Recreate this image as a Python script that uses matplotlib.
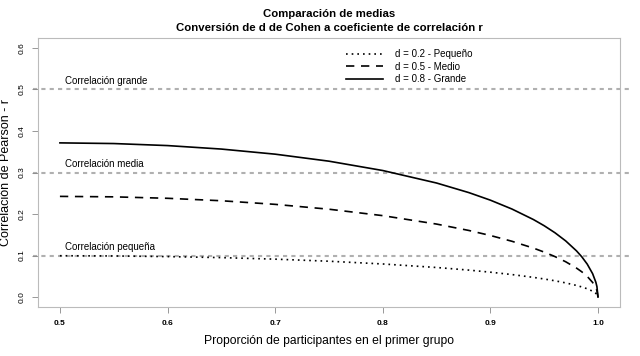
import numpy as np
import matplotlib
matplotlib.use("Agg")
import matplotlib.pyplot as plt

plt.rcParams['font.family'] = ['Liberation Sans', 'DejaVu Sans']

# proporcion en el primer grupo
p = [0.5, 0.55, 0.6, 0.65, 0.7, 0.75, 0.8, 0.85, 0.88, 0.9, 0.92, 0.94,
     0.95, 0.96, 0.97, 0.98, 0.985, 0.99, 0.995, 0.998, 0.999, 1.0]
r_peq = [0.0995, 0.0990, 0.0975, 0.0950, 0.0913, 0.0863, 0.0797, 0.0712, 0.0649,
         0.0599, 0.0542, 0.0474, 0.0435, 0.0392, 0.0341, 0.0280, 0.0243, 0.0199,
         0.0141, 0.0089, 0.0063, 0.0]
r_med = [0.2425, 0.2414, 0.2379, 0.2320, 0.2233, 0.2116, 0.1961, 0.1758, 0.1604,
         0.1483, 0.1344, 0.1179, 0.1083, 0.0975, 0.0850, 0.0698, 0.0607, 0.0497,
         0.0352, 0.0223, 0.0158, 0.0]
r_gra = [0.3714, 0.3698, 0.3649, 0.3565, 0.3442, 0.3273, 0.3048, 0.2747, 0.2516,
         0.2334, 0.2121, 0.1867, 0.1718, 0.1549, 0.1352, 0.1113, 0.0968, 0.0793,
         0.0563, 0.0357, 0.0253, 0.0]

ref_vals = [0.1, 0.3, 0.5]
ref_txt = ['Correlación pequeña', 'Correlación media', 'Correlación grande']
leg_txt = ['d = 0.2 - Pequeño', 'd = 0.5 - Medio', 'd = 0.8 - Grande']
xticks = [0.5, 0.6, 0.7, 0.8, 0.9, 1.0]
yticks = [0.0, 0.1, 0.2, 0.3, 0.4, 0.5, 0.6]

fig = plt.figure(figsize=(6.4, 3.56), dpi=100)
ax = fig.add_axes([0.0600, 0.1376, 0.9080, 0.7556])

# lineas de referencia
for v, t in zip(ref_vals, ref_txt):
    ax.axhline(v, xmin=-0.01, xmax=1.02, color='#b0b0b0', lw=1.5,
               ls=(0, (2, 2)), clip_on=False, zorder=1)
    ax.text(0.505, v + 0.008, t, fontsize=7, va='bottom', ha='left')

l1, = ax.plot(p, r_peq, color='black', lw=1.2, ls=(0, (1, 2.4)))
l2, = ax.plot(p, r_med, color='black', lw=1.2, ls=(0, (5, 4)))
l3, = ax.plot(p, r_gra, color='black', lw=1.2, ls='-')

ax.legend([l1, l2, l3], leg_txt, loc='upper left', bbox_to_anchor=(0.515, 0.99),
          frameon=False, fontsize=7, handlelength=3.8, labelspacing=0.25,
          handletextpad=1.2)

ax.set_xlim(0.48, 1.02)
ax.set_ylim(-0.024, 0.624)
ax.set_xticks(xticks)
ax.set_xticklabels([f'{x:.1f}' for x in xticks], fontsize=6, fontweight='bold')
ax.set_yticks(yticks)
ax.set_yticklabels([f'{y:.1f}' for y in yticks], fontsize=6, rotation=90,
                   va='center')
ax.tick_params(direction='out', length=4, width=0.6, color='#888888', pad=5)
for s in ax.spines.values():
    s.set_color('#bbbbbb')
    s.set_linewidth(0.8)

ax.set_xlabel('Proporción de participantes en el primer grupo', fontsize=8.7,
              labelpad=6)
ax.set_ylabel('Correlación de Pearson - r', fontsize=9, labelpad=5)
ax.set_title('Comparación de medias\nConversión de d de Cohen a coeficiente de correlación r',
             fontsize=8.2, fontweight='bold', pad=5, linespacing=1.45)

fig.savefig('out.png', dpi=100)
